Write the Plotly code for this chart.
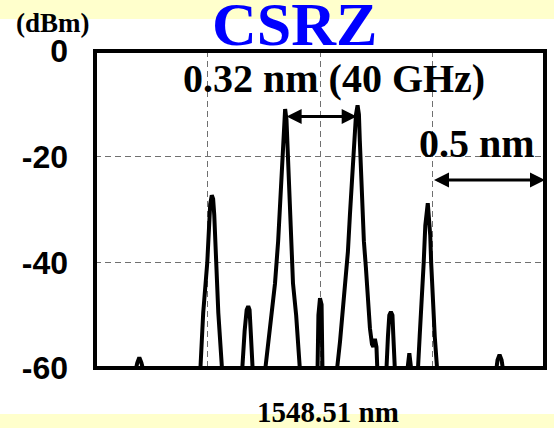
import plotly.graph_objects as go

# Optical spectrum of a CSRZ signal, centred on 1548.51 nm
CENTER_NM = 1548.51

# Trace samples: wavelength offset from the centre (nm) and power (dBm)
offset_nm = [
    -1.000, -0.820, -0.812, -0.803, -0.794, -0.785,
    -0.532, -0.519, -0.501, -0.492, -0.488, -0.481, -0.475, -0.470, -0.466, -0.461, -0.452, -0.435,
    -0.346, -0.335, -0.326, -0.319, -0.313, -0.308, -0.299,
    -0.244, -0.231, -0.213, -0.200, -0.186, -0.177, -0.169, -0.162, -0.155, -0.149, -0.142, -0.137,
    -0.129, -0.120, -0.106, -0.098, -0.089,
    -0.011, -0.007, 0.000, 0.007, 0.011,
    0.075, 0.089, 0.102, 0.115, 0.124, 0.133, 0.142, 0.151, 0.160, 0.167, 0.173, 0.177, 0.182,
    0.188, 0.195, 0.204, 0.213, 0.222, 0.231, 0.237, 0.244, 0.251, 0.255,
    0.295, 0.302, 0.308, 0.315, 0.322, 0.326, 0.333,
    0.388, 0.397, 0.406,
    0.435, 0.443, 0.452, 0.461, 0.468, 0.475, 0.479, 0.483, 0.490, 0.494, 0.501, 0.510, 0.521,
    0.783, 0.789, 0.798, 0.807, 0.814,
    1.000,
]
power_dbm = [
    -60.5, -60.5, -59.0, -58.0, -59.0, -60.5,
    -60.5, -49.5, -40.0, -33.0, -29.0, -27.3, -28.0, -31.0, -35.0, -40.0, -49.5, -60.5,
    -60.5, -53.0, -49.0, -48.3, -49.0, -53.0, -60.5,
    -60.5, -56.0, -50.0, -44.0, -36.0, -28.0, -20.0, -14.0, -11.0, -13.0, -20.0, -28.0,
    -36.0, -44.0, -50.0, -56.0, -60.5,
    -60.5, -50.0, -46.8, -48.0, -60.5,
    -60.5, -55.0, -49.0, -43.0, -38.0, -31.0, -24.0, -17.0, -12.0, -10.3, -12.0, -17.0, -24.0,
    -31.0, -36.0, -41.0, -47.0, -52.5, -55.5, -56.0, -54.5, -56.0, -60.5,
    -60.5, -54.0, -50.0, -49.4, -50.0, -54.0, -60.5,
    -60.5, -57.2, -60.5,
    -60.5, -54.0, -48.0, -40.0, -33.0, -29.0, -28.8, -31.0, -35.0, -40.0, -48.0, -54.0, -60.5,
    -60.5, -58.5, -57.5, -58.5, -60.5,
    -60.5,
]
wavelength_nm = [CENTER_NM + d for d in offset_nm]

# Axes
x_range = [CENTER_NM - 1.0, CENTER_NM + 1.0]
x_grid = [CENTER_NM - 0.5, CENTER_NM, CENTER_NM + 0.5]
y_range = [-60, 0]
y_ticks = [0, -20, -40, -60]
y_ticktext = ["0", "-20", "-40", "-60"]

# Double-headed markers: tone spacing and grid spacing
spacing_left, spacing_right, spacing_level = CENTER_NM - 0.155, CENTER_NM + 0.163, -12.4
div_left, div_right, div_level = CENTER_NM + 0.5, CENTER_NM + 1.0, -24.4

W, H = 554, 428
ML, MR, MT, MB = 95, 9, 51, 60
PW, PH = W - ML - MR, H - MT - MB


def px_x(px):
    return (px - ML) / PW


def px_y(py):
    return (H - MB - py) / PH


SERIF = "Liberation Serif"
SANS = "Liberation Sans"
BAND = "#FFFFCC"

fig = go.Figure()
fig.add_trace(go.Scatter(
    x=wavelength_nm, y=power_dbm, mode="lines",
    line=dict(color="black", width=4),
    hoverinfo="skip", showlegend=False,
))

shapes = [
    # pale bands along the top and bottom edges of the page
    dict(type="rect", xref="paper", yref="paper", x0=px_x(0), x1=px_x(W),
         y0=px_y(19), y1=px_y(0), fillcolor=BAND, line_width=0, layer="below"),
    dict(type="rect", xref="paper", yref="paper", x0=px_x(0), x1=px_x(W),
         y0=px_y(H), y1=px_y(414), fillcolor=BAND, line_width=0, layer="below"),
    # heavy frame around the plot area
    dict(type="rect", xref="paper", yref="paper", x0=0, x1=1, y0=0, y1=1,
         line=dict(color="black", width=4), fillcolor="rgba(0,0,0,0)", layer="above"),
]

annotations = [
    dict(text="<b>CSRZ</b>", xref="paper", yref="paper", x=px_x(294), y=px_y(24),
         xanchor="center", yanchor="middle", showarrow=False,
         font=dict(family=SERIF, size=62, color="#0000FF")),
    dict(text="<b>(dBm)</b>", xref="paper", yref="paper", x=px_x(53), y=px_y(23),
         xanchor="center", yanchor="middle", showarrow=False,
         font=dict(family=SERIF, size=27, color="black")),
    dict(text="<b>1548.51 nm</b>", xref="paper", yref="paper", x=px_x(328), y=px_y(412),
         xanchor="center", yanchor="middle", showarrow=False,
         font=dict(family=SERIF, size=29, color="black")),
    dict(text="<b>0.32 nm (40 GHz)</b>", xref="paper", yref="paper", x=px_x(334), y=px_y(78),
         xanchor="center", yanchor="middle", showarrow=False,
         font=dict(family=SERIF, size=40, color="black")),
    dict(text="<b>0.5 nm</b>", xref="paper", yref="paper", x=px_x(477), y=px_y(143),
         xanchor="center", yanchor="middle", showarrow=False,
         font=dict(family=SERIF, size=40, color="black")),
    dict(text="", x=spacing_right, y=spacing_level, ax=spacing_left, ay=spacing_level,
         xref="x", yref="y", axref="x", ayref="y", showarrow=True,
         arrowhead=2, arrowside="end+start", arrowsize=1, arrowwidth=3, arrowcolor="black"),
    dict(text="", x=div_right, y=div_level, ax=div_left, ay=div_level,
         xref="x", yref="y", axref="x", ayref="y", showarrow=True,
         arrowhead=2, arrowside="end+start", arrowsize=1, arrowwidth=3, arrowcolor="black"),
]

fig.update_layout(
    width=W, height=H,
    margin=dict(l=ML, r=MR, t=MT, b=MB, autoexpand=False),
    paper_bgcolor="white", plot_bgcolor="white",
    shapes=shapes, annotations=annotations,
    showlegend=False,
)
fig.update_xaxes(
    range=x_range, tickvals=x_grid, showticklabels=False, ticks="",
    showgrid=True, gridcolor="#707070", gridwidth=1, griddash="6px,4px",
    zeroline=False, showline=False, fixedrange=True,
)
fig.update_yaxes(
    range=y_range, tickvals=y_ticks, ticktext=y_ticktext, ticks="",
    tickfont=dict(family=SANS, size=32, color="black", weight="bold"),
    ticklabelstandoff=26,
    showgrid=True, gridcolor="#707070", gridwidth=1, griddash="6px,4px",
    zeroline=False, showline=False, fixedrange=True,
)

fig.write_html("out.html")
